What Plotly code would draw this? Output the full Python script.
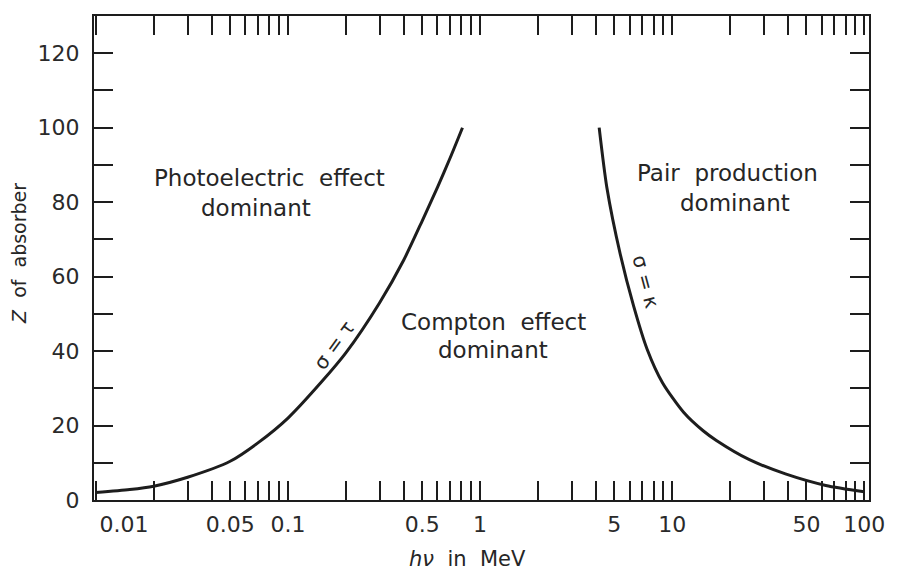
import plotly.graph_objects as go

# ---- data ----
photo_energy = [0.01, 0.015, 0.02, 0.03, 0.05, 0.07, 0.1, 0.15, 0.2, 0.3, 0.4, 0.5, 0.6, 0.7, 0.81]
photo_z = [2.0, 2.8, 3.7, 6.1, 10.4, 15.4, 22.0, 31.8, 39.5, 53.0, 64.4, 75.0, 84.0, 92.0, 100.0]

pair_energy = [4.17, 4.57, 5.37, 6.31, 7.41, 8.91, 11.5, 14.5, 17.0, 25.1, 38.9, 63.1, 100.0]
pair_z = [100.0, 84.0, 66.0, 52.0, 40.5, 31.5, 23.5, 18.6, 16.0, 10.9, 7.0, 3.9, 2.2]

x_tick_vals = [m * 10.0 ** e for e in (-2, -1, 0, 1) for m in range(1, 10)] + [100.0]
x_labelled = {0.01: "\u00a0" * 8 + "0.01", 0.05: "0.05", 0.1: "0.1", 0.5: "0.5", 1.0: "1",
              5.0: "5", 10.0: "10", 50.0: "50", 100.0: "100"}
x_tick_text = [next((t for v, t in x_labelled.items() if abs(v - x) / x < 1e-6), "") for x in x_tick_vals]

y_tick_vals = list(range(0, 130, 10))
y_tick_text = [str(v) if v % 20 == 0 else "" for v in y_tick_vals]

INK = "#1d1d1d"
FONT = "DejaVu Sans"

fig = go.Figure()
fig.add_trace(go.Scatter(x=photo_energy, y=photo_z, mode="lines",
                         line=dict(color=INK, width=3, shape="spline", smoothing=0.7),
                         hoverinfo="skip"))
fig.add_trace(go.Scatter(x=pair_energy, y=pair_z, mode="lines",
                         line=dict(color=INK, width=3, shape="spline", smoothing=0.7),
                         hoverinfo="skip"))

axis_common = dict(showline=True, linewidth=2, linecolor=INK, mirror="ticks",
                   ticks="inside", ticklen=19, tickwidth=2, tickcolor=INK,
                   showgrid=False, zeroline=False,
                   tickfont=dict(family=FONT, size=22, color="#2a2a2a"))

fig.update_layout(
    width=897, height=576,
    margin=dict(l=94, r=19, t=16, b=76),
    paper_bgcolor="white", plot_bgcolor="white",
    showlegend=False,
    xaxis=dict(type="log", range=[-2.01, 2.025], tickmode="array",
               tickvals=x_tick_vals, ticktext=x_tick_text, ticklabelstandoff=4,
               **axis_common),
    yaxis=dict(range=[0, 130], tickmode="array", tickvals=y_tick_vals,
               ticktext=y_tick_text, ticklabelstandoff=8, **axis_common),
)

def note(text, x, y, xanchor="center", angle=0, size=23):
    fig.add_annotation(text=text, x=x, y=y, xref="paper", yref="paper",
                       xanchor=xanchor, yanchor="middle", showarrow=False,
                       textangle=angle,
                       font=dict(family=FONT, size=size, color="#262626"))

note("Photoelectric  effect", 0.3776, 0.665, xanchor="right")
note("dominant", 0.282, 0.603, xanchor="right")
note("Pair  production", 0.8176, 0.6756)
note("dominant", 0.8265, 0.6136)
note("Compton  effect", 0.5153, 0.3678)
note("dominant", 0.5153, 0.3099)
note("σ = τ", 0.31, 0.32, angle=-54, size=20)
note("σ = κ", 0.7117, 0.452, angle=75, size=20)

note("<i>hν</i>  in  MeV", 0.482, -0.122, size=21)
note("<i>Z</i>  of  absorber", -0.097, 0.51, angle=-90, size=19)

fig.write_html("out.html")
